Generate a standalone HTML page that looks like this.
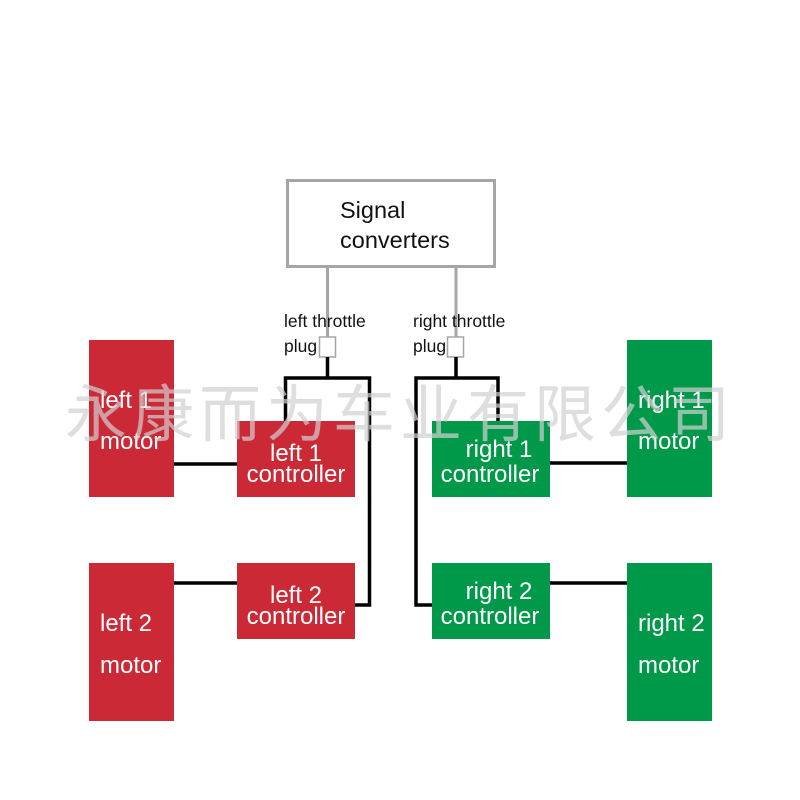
<!DOCTYPE html>
<html><head><meta charset="utf-8"><style>
html,body{margin:0;padding:0;background:#fff;}
svg{display:block;}
text{font-family:"Liberation Sans",Arial,sans-serif;}
</style></head><body>
<svg width="800" height="800" viewBox="0 0 800 800" xmlns="http://www.w3.org/2000/svg">
<rect x="0" y="0" width="800" height="800" fill="#fff"/>
<rect x="287.5" y="180.5" width="207" height="86" fill="#fff" stroke="#a6a6a6" stroke-width="3"/>
<text x="340" y="218" font-size="23.5" fill="#111">Signal</text>
<text x="340" y="248" font-size="23.5" fill="#111">converters</text>
<line x1="327.5" y1="267" x2="327.5" y2="337" stroke="#a6a6a6" stroke-width="3"/>
<line x1="456" y1="267" x2="456" y2="337" stroke="#a6a6a6" stroke-width="3"/>
<rect x="319.5" y="337" width="16" height="20" fill="#fff" stroke="#a6a6a6" stroke-width="1.5"/>
<rect x="447.5" y="337" width="16" height="20" fill="#fff" stroke="#a6a6a6" stroke-width="1.5"/>
<text x="284" y="327" font-size="17.5" fill="#111">left throttle</text>
<text x="284" y="352" font-size="17.5" fill="#111">plug</text>
<text x="413" y="327" font-size="17.5" fill="#111">right throttle</text>
<text x="413" y="352" font-size="17.5" fill="#111">plug</text>
<g stroke="#000" stroke-width="3.5" fill="none">
<polyline points="327.5,357 327.5,378"/>
<polyline points="285.5,421 285.5,378 369.5,378 369.5,605 355,605"/>
<line x1="174" y1="464" x2="237" y2="464"/>
<line x1="174" y1="583" x2="237" y2="583"/>
<polyline points="456,357 456,378"/>
<polyline points="498,421 498,378 416,378 416,605 432,605"/>
<line x1="550" y1="463" x2="627" y2="463"/>
<line x1="550" y1="583" x2="627" y2="583"/>
</g>
<g fill="#cc2936">
<rect x="89" y="340" width="85" height="157"/>
<rect x="237" y="421" width="118" height="76"/>
<rect x="89" y="563" width="85" height="158"/>
<rect x="237" y="563" width="118" height="76"/>
</g>
<g fill="#00994a">
<rect x="627" y="340" width="85" height="157"/>
<rect x="432" y="421" width="118" height="76"/>
<rect x="627" y="563" width="85" height="158"/>
<rect x="432" y="563" width="118" height="76"/>
</g>
<g fill="#fff" font-size="24">
<text x="100" y="408">left 1</text>
<text x="100" y="449">motor</text>
<text x="296" y="461" text-anchor="middle">left 1</text>
<text x="296" y="482" text-anchor="middle">controller</text>
<text x="100" y="631">left 2</text>
<text x="100" y="673">motor</text>
<text x="296" y="603" text-anchor="middle">left 2</text>
<text x="296" y="624" text-anchor="middle">controller</text>
<text x="638" y="408">right 1</text>
<text x="638" y="449">motor</text>
<text x="499" y="457" text-anchor="middle">right 1</text>
<text x="490" y="482" text-anchor="middle">controller</text>
<text x="638" y="631">right 2</text>
<text x="638" y="673">motor</text>
<text x="499" y="599" text-anchor="middle">right 2</text>
<text x="490" y="624" text-anchor="middle">controller</text>
</g>
<text x="400" y="436" text-anchor="middle" font-size="62" letter-spacing="5" fill="#d0d0d0" fill-opacity="0.7" style="font-family:'Noto Sans CJK SC',sans-serif">永康而为车业有限公司</text>
</svg>
</body></html>
